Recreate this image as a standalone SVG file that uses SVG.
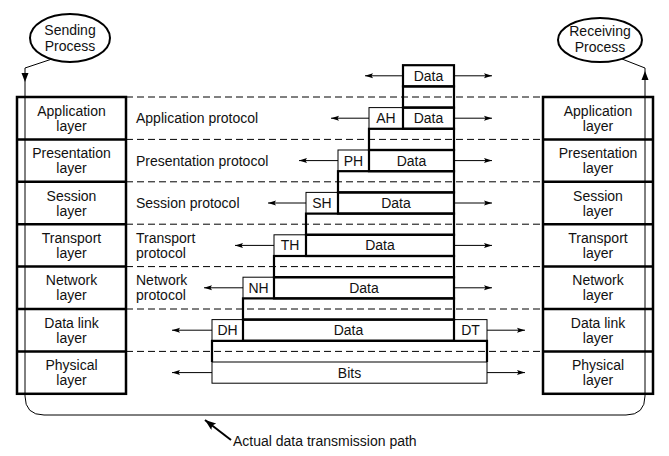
<svg xmlns="http://www.w3.org/2000/svg" width="669" height="456" viewBox="0 0 669 456">
<style>
text{font-family:"Liberation Sans",Arial,Helvetica,sans-serif;font-size:14px;fill:#111}
.c{text-anchor:middle}
.stk{fill:none;stroke:#000;stroke-width:2.5}
.thk{fill:none;stroke:#000;stroke-width:2.2}
.thn{fill:none;stroke:#000;stroke-width:1}
.dash{stroke:#000;stroke-width:1;stroke-dasharray:7 4;fill:none}
.ar{stroke:#000;stroke-width:1;fill:none;marker-end:url(#ah)}
.path{stroke:#000;stroke-width:1;fill:none}
.ell{fill:#fff;stroke:#000;stroke-width:2}
</style>
<defs>
<marker id="ah" markerUnits="userSpaceOnUse" markerWidth="10" markerHeight="8" refX="8" refY="3" orient="auto">
<path d="M0,0.5 L8,3 L0,5.5 L1.5,3 z" fill="#000"/>
</marker>
<marker id="big" markerUnits="userSpaceOnUse" markerWidth="14" markerHeight="10" refX="11" refY="4" orient="auto">
<path d="M0,0 L11,4 L0,8 L2,4 z" fill="#000"/>
</marker>
</defs>

<g id="connectors">
<!-- layer boundary dashed lines -->
<line class="dash" x1="126" y1="97" x2="543" y2="97"/>
<line class="dash" x1="126" y1="139.4" x2="543" y2="139.4"/>
<line class="dash" x1="126" y1="181.8" x2="543" y2="181.8"/>
<line class="dash" x1="126" y1="224.2" x2="543" y2="224.2"/>
<line class="dash" x1="126" y1="266.6" x2="543" y2="266.6"/>
<line class="dash" x1="126" y1="309" x2="543" y2="309"/>
<line class="dash" x1="126" y1="351.4" x2="543" y2="351.4"/>
<!-- actual data path -->
<path class="path" d="M52,59 L25,68 L25,396 Q25,415 44,415 L626,415 Q645,415 645,396 L645,68 L622,59"/>
<path d="M21.5,73 L28.5,73 L25,82 z" fill="#000"/>
<path d="M641.5,80 L648.5,80 L645,71 z" fill="#000"/>
<line x1="231" y1="440" x2="205" y2="420" stroke="#000" stroke-width="2" marker-end="url(#big)"/>
<!-- protocol arrows -->
<line class="ar" x1="403" y1="75.8" x2="365" y2="75.8"/>
<line class="ar" x1="454" y1="75.8" x2="492" y2="75.8"/>
<line class="ar" x1="369" y1="118.2" x2="331" y2="118.2"/>
<line class="ar" x1="454" y1="118.2" x2="492" y2="118.2"/>
<line class="ar" x1="338" y1="160.6" x2="299" y2="160.6"/>
<line class="ar" x1="454" y1="160.6" x2="492" y2="160.6"/>
<line class="ar" x1="306" y1="203" x2="268" y2="203"/>
<line class="ar" x1="454" y1="203" x2="492" y2="203"/>
<line class="ar" x1="274" y1="245.4" x2="235" y2="245.4"/>
<line class="ar" x1="454" y1="245.4" x2="492" y2="245.4"/>
<line class="ar" x1="243" y1="287.8" x2="204" y2="287.8"/>
<line class="ar" x1="454" y1="287.8" x2="492" y2="287.8"/>
<line class="ar" x1="212" y1="330.2" x2="172" y2="330.2"/>
<line class="ar" x1="487" y1="330.2" x2="525" y2="330.2"/>
<line class="ar" x1="212" y1="372.6" x2="172" y2="372.6"/>
<line class="ar" x1="487" y1="372.6" x2="525" y2="372.6"/>
</g>

<g id="sending-process">
<ellipse class="ell" cx="70" cy="38" rx="40" ry="24"/>
<text class="c" x="70" y="35">Sending</text>
<text class="c" x="70" y="51">Process</text>
</g>
<g id="receiving-process">
<ellipse class="ell" cx="600" cy="40" rx="42" ry="22"/>
<text class="c" x="600" y="36">Receiving</text>
<text class="c" x="600" y="52">Process</text>
</g>

<g id="sender-stack">
<rect class="stk" x="17" y="97" width="109" height="296.8"/>
<path class="stk" d="M17,139.4 H126 M17,181.8 H126 M17,224.2 H126 M17,266.6 H126 M17,309 H126 M17,351.4 H126"/>
<text class="c" x="71.5" y="115.7">Application</text><text class="c" x="71.5" y="130.7">layer</text>
<text class="c" x="71.5" y="158.1">Presentation</text><text class="c" x="71.5" y="173.1">layer</text>
<text class="c" x="71.5" y="200.5">Session</text><text class="c" x="71.5" y="215.5">layer</text>
<text class="c" x="71.5" y="242.9">Transport</text><text class="c" x="71.5" y="257.9">layer</text>
<text class="c" x="71.5" y="285.3">Network</text><text class="c" x="71.5" y="300.3">layer</text>
<text class="c" x="71.5" y="327.7">Data link</text><text class="c" x="71.5" y="342.7">layer</text>
<text class="c" x="71.5" y="370.1">Physical</text><text class="c" x="71.5" y="385.1">layer</text>
</g>

<g id="receiver-stack">
<rect class="stk" x="543" y="97" width="110" height="296.8"/>
<path class="stk" d="M543,139.4 H653 M543,181.8 H653 M543,224.2 H653 M543,266.6 H653 M543,309 H653 M543,351.4 H653"/>
<text class="c" x="598" y="115.7">Application</text><text class="c" x="598" y="130.7">layer</text>
<text class="c" x="598" y="158.1">Presentation</text><text class="c" x="598" y="173.1">layer</text>
<text class="c" x="598" y="200.5">Session</text><text class="c" x="598" y="215.5">layer</text>
<text class="c" x="598" y="242.9">Transport</text><text class="c" x="598" y="257.9">layer</text>
<text class="c" x="598" y="285.3">Network</text><text class="c" x="598" y="300.3">layer</text>
<text class="c" x="598" y="327.7">Data link</text><text class="c" x="598" y="342.7">layer</text>
<text class="c" x="598" y="370.1">Physical</text><text class="c" x="598" y="385.1">layer</text>
</g>

<g id="protocol-labels">
<text x="136" y="123.2">Application protocol</text>
<text x="136" y="165.6">Presentation protocol</text>
<text x="136" y="208">Session protocol</text>
<text x="136" y="242.9">Transport</text><text x="136" y="257.9">protocol</text>
<text x="136" y="285.3">Network</text><text x="136" y="300.3">protocol</text>
</g>

<g id="packets">
<!-- headers / trailers (thin) -->
<rect class="thn" x="369" y="107.6" width="34" height="21.2"/>
<rect class="thn" x="338" y="150" width="31" height="21.2"/>
<rect class="thn" x="306" y="192.4" width="32" height="21.2"/>
<rect class="thn" x="274" y="234.8" width="32" height="21.2"/>
<rect class="thn" x="243" y="277.2" width="31" height="21.2"/>
<rect class="thn" x="212" y="319.6" width="31" height="21.2"/>
<rect class="thn" x="454" y="319.6" width="33" height="21.2"/>
<rect class="thn" x="212" y="362" width="275" height="21.2"/>
<!-- data units (thick) -->
<rect class="thk" x="403" y="65.2" width="51" height="21.2"/>
<rect class="thk" x="403" y="86.4" width="51" height="21.2"/>
<rect class="thk" x="403" y="107.6" width="51" height="21.2"/>
<rect class="thk" x="369" y="128.8" width="85" height="21.2"/>
<rect class="thk" x="369" y="150" width="85" height="21.2"/>
<rect class="thk" x="338" y="171.2" width="116" height="21.2"/>
<rect class="thk" x="338" y="192.4" width="116" height="21.2"/>
<rect class="thk" x="306" y="213.6" width="148" height="21.2"/>
<rect class="thk" x="306" y="234.8" width="148" height="21.2"/>
<rect class="thk" x="274" y="256" width="180" height="21.2"/>
<rect class="thk" x="274" y="277.2" width="180" height="21.2"/>
<rect class="thk" x="243" y="298.4" width="211" height="21.2"/>
<rect class="thk" x="243" y="319.6" width="211" height="21.2"/>
<path class="thk" d="M212,362 V340.8 H487 V362"/>
<!-- labels -->
<text class="c" x="428.5" y="80.8">Data</text>
<text class="c" x="386" y="123.2">AH</text>
<text class="c" x="428.5" y="123.2">Data</text>
<text class="c" x="353.5" y="165.6">PH</text>
<text class="c" x="411.5" y="165.6">Data</text>
<text class="c" x="322" y="208">SH</text>
<text class="c" x="396" y="208">Data</text>
<text class="c" x="290" y="250.4">TH</text>
<text class="c" x="380" y="250.4">Data</text>
<text class="c" x="258.5" y="292.8">NH</text>
<text class="c" x="364" y="292.8">Data</text>
<text class="c" x="227.5" y="335.2">DH</text>
<text class="c" x="348.5" y="335.2">Data</text>
<text class="c" x="470.5" y="335.2">DT</text>
<text class="c" x="349.5" y="377.6">Bits</text>
</g>

<g id="path-label">
<text x="233" y="446">Actual data transmission path</text>
</g>
</svg>
